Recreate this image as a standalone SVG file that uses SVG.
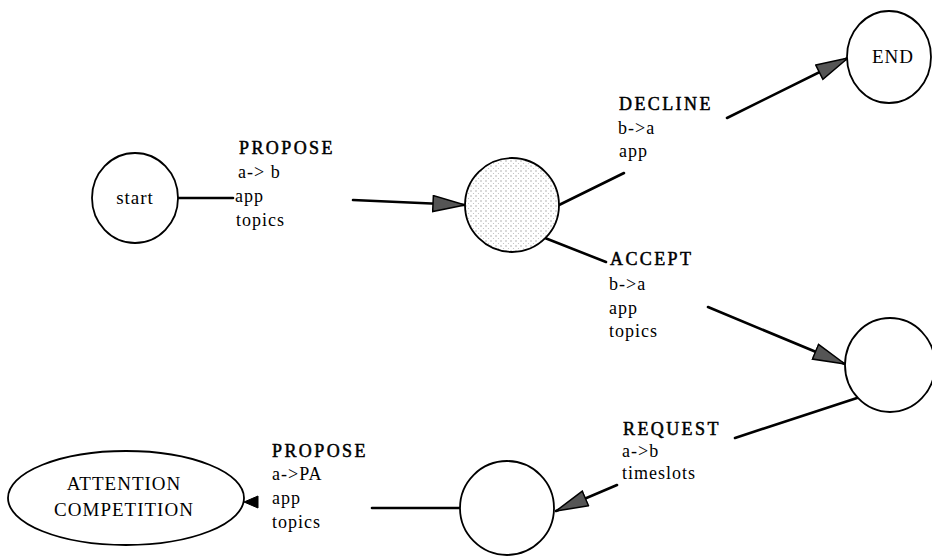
<svg xmlns="http://www.w3.org/2000/svg" width="932" height="556" viewBox="0 0 932 556">
<style>
.node{fill:#fff;stroke:#000;stroke-width:1.8}
.conn{stroke:#000;stroke-width:2.6;fill:none;stroke-linecap:round}
.cap{font-family:"Liberation Serif","Times New Roman",serif;font-size:18px;letter-spacing:2.4px;fill:#000;stroke:#000;stroke-width:0.5}
.lbl{font-family:"Liberation Serif","Times New Roman",serif;font-size:18px;letter-spacing:1px;fill:#000}
.nt{font-family:"Liberation Serif","Times New Roman",serif;font-size:19px;letter-spacing:1px;fill:#000;text-anchor:middle}
</style>
<defs>
<pattern id="stip" width="5" height="5" patternUnits="userSpaceOnUse">
<rect width="5" height="5" fill="#fff"/>
<circle cx="1" cy="1" r="0.7" fill="#999"/>
<circle cx="3.5" cy="3.5" r="0.6" fill="#bbb"/>
</pattern>
<marker id="ah" viewBox="0 0 34 18" refX="33" refY="9" markerWidth="34" markerHeight="18" markerUnits="userSpaceOnUse" orient="auto">
<path d="M1,1 L33,9 L1,17 z" fill="#555" stroke="#000" stroke-width="1.5"/>
</marker>
</defs>
<g id="connectors">
<line class="conn" x1="177" y1="198" x2="233" y2="198"/>
<line class="conn" x1="353" y1="200" x2="465" y2="205" marker-end="url(#ah)"/>
<line class="conn" x1="559" y1="205" x2="624" y2="173"/>
<line class="conn" x1="727" y1="118" x2="848" y2="58" marker-end="url(#ah)"/>
<line class="conn" x1="545" y1="238" x2="606" y2="262"/>
<line class="conn" x1="708" y1="307" x2="845" y2="364" marker-end="url(#ah)"/>
<line class="conn" x1="857" y1="398" x2="735" y2="438"/>
<line class="conn" x1="617" y1="485" x2="556" y2="511" marker-end="url(#ah)"/>
<line class="conn" x1="460" y1="508" x2="372" y2="508"/>
<path d="M244,502 L258,496 L258,508 z" fill="#000" stroke="#000" stroke-width="1"/>
</g>
<g id="start">
<ellipse class="node" cx="135" cy="198" rx="43" ry="45"/>
<text class="nt" x="135" y="204">start</text>
</g>
<g id="s1">
<circle class="node" cx="512" cy="205" r="47" style="fill:url(#stip)"/>
</g>
<g id="end">
<ellipse class="node" cx="889" cy="57" rx="42" ry="46"/>
<text class="nt" x="893" y="63">END</text>
</g>
<g id="s2">
<ellipse class="node" cx="890" cy="365" rx="45" ry="47"/>
</g>
<g id="s3">
<circle class="node" cx="507" cy="508" r="47"/>
</g>
<g id="attention">
<ellipse class="node" cx="126" cy="498" rx="118" ry="47"/>
<text class="nt" x="124" y="490">ATTENTION</text>
<text class="nt" x="124" y="516">COMPETITION</text>
</g>
<g id="labels">
<text class="cap" x="239" y="154">PROPOSE</text>
<text class="lbl" x="238" y="178">a-&gt; b</text>
<text class="lbl" x="235" y="202">app</text>
<text class="lbl" x="236" y="226">topics</text>
<text class="cap" x="619" y="110">DECLINE</text>
<text class="lbl" x="618" y="134">b-&gt;a</text>
<text class="lbl" x="619" y="157">app</text>
<text class="cap" x="610" y="265">ACCEPT</text>
<text class="lbl" x="609" y="290">b-&gt;a</text>
<text class="lbl" x="609" y="314">app</text>
<text class="lbl" x="609" y="337">topics</text>
<text class="cap" x="623" y="435">REQUEST</text>
<text class="lbl" x="622" y="457">a-&gt;b</text>
<text class="lbl" x="622" y="479">timeslots</text>
<text class="cap" x="272" y="457">PROPOSE</text>
<text class="lbl" x="272" y="480">a-&gt;PA</text>
<text class="lbl" x="272" y="504">app</text>
<text class="lbl" x="272" y="528">topics</text>
</g>
</svg>
